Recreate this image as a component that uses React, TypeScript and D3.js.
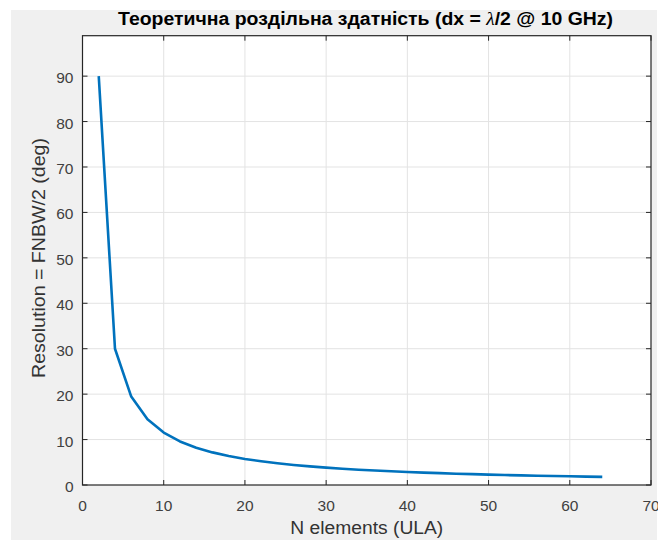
import React from "react";
import * as d3 from "d3";

// Number of array elements (uniform linear array)
const elementCounts = [
  2, 4, 6, 8, 10, 12, 14, 16, 18, 20, 22, 24, 26, 28, 30, 32,
  34, 36, 38, 40, 42, 44, 46, 48, 50, 52, 54, 56, 58, 60, 62, 64,
];
// Half first-null beamwidth, degrees
const resolutionDeg = [
  90, 30, 19.47, 14.48, 11.54, 9.59, 8.21, 7.18, 6.38, 5.74, 5.22, 4.78,
  4.41, 4.1, 3.82, 3.58, 3.37, 3.18, 3.02, 2.87, 2.73, 2.61, 2.49, 2.39,
  2.29, 2.2, 2.12, 2.05, 1.98, 1.91, 1.85, 1.79,
];
const xTicks = [0, 10, 20, 30, 40, 50, 60, 70];
const yTicks = [0, 10, 20, 30, 40, 50, 60, 70, 80, 90];

const titleMain = "Теоретична роздільна здатність (dx = ";
const titleLambda = "λ";
const titleTail = "/2 @ 10 GHz)";
const xLabel = "N elements (ULA)";
const yLabel = "Resolution = FNBW/2 (deg)";

const W = 658;
const H = 540;
const plot = { left: 82.5, right: 651, top: 35.7, bottom: 485 };
const axisColor = "#262626";
const gridColor = "#e3e3e3";
const font = "'Liberation Sans', Arial, Helvetica, sans-serif";

export default function App() {
  const x = d3.scaleLinear().domain([0, 70]).range([plot.left, plot.right]);
  const y = d3.scaleLinear().domain([0, 98.9]).range([plot.bottom, plot.top]);

  const pts: [number, number][] = elementCounts.map((n, i) => [n, resolutionDeg[i]]);
  const line = d3
    .line<[number, number]>()
    .x((d) => x(d[0]))
    .y((d) => y(d[1]));

  const tickLen = 5;
  const cx = (plot.left + plot.right) / 2;

  return (
    <svg
      width={W}
      height={H}
      style={{ position: "absolute", left: 0, top: 0, background: "#fff" }}
      fontFamily={font}
    >
      <rect x={11} y={10} width={646} height={H - 10} fill="#f0f0f0" />
      <rect
        x={plot.left}
        y={plot.top}
        width={plot.right - plot.left}
        height={plot.bottom - plot.top}
        fill="#fff"
      />

      {/* grid */}
      {xTicks.slice(1, -1).map((t) => (
        <line key={"gx" + t} x1={x(t)} x2={x(t)} y1={plot.top} y2={plot.bottom} stroke={gridColor} strokeWidth={1} />
      ))}
      {yTicks.slice(1).map((t) => (
        <line key={"gy" + t} x1={plot.left} x2={plot.right} y1={y(t)} y2={y(t)} stroke={gridColor} strokeWidth={1} />
      ))}

      {/* data */}
      <path d={line(pts) ?? ""} fill="none" stroke="#0072BD" strokeWidth={2.6} strokeLinejoin="round" />

      {/* axes box */}
      <rect
        x={plot.left}
        y={plot.top}
        width={plot.right - plot.left}
        height={plot.bottom - plot.top}
        fill="none"
        stroke={axisColor}
        strokeWidth={1.2}
      />

      {/* ticks */}
      {xTicks.map((t) => (
        <g key={"tx" + t}>
          <line x1={x(t)} x2={x(t)} y1={plot.bottom} y2={plot.bottom - tickLen} stroke={axisColor} />
          <line x1={x(t)} x2={x(t)} y1={plot.top} y2={plot.top + tickLen} stroke={axisColor} />
          <text x={x(t)} y={plot.bottom + 25.5} textAnchor="middle" fontSize={15.5} fill="#404040">
            {t}
          </text>
        </g>
      ))}
      {yTicks.map((t) => (
        <g key={"ty" + t}>
          <line x1={plot.left} x2={plot.left + tickLen} y1={y(t)} y2={y(t)} stroke={axisColor} />
          <line x1={plot.right} x2={plot.right - tickLen} y1={y(t)} y2={y(t)} stroke={axisColor} />
          <text x={plot.left - 9} y={y(t) + 7} textAnchor="end" fontSize={15.5} fill="#404040">
            {t}
          </text>
        </g>
      ))}

      {/* labels */}
      <text
        x={365.5}
        y={25}
        textAnchor="middle"
        fontSize={18}
        fontWeight="bold"
        fill="#000"
        textLength={495}
        lengthAdjust="spacingAndGlyphs"
      >
        {titleMain}
        <tspan fontWeight="normal" fontStyle="italic" fontFamily="'Liberation Serif', 'Times New Roman', serif">
          {titleLambda}
        </tspan>
        {titleTail}
      </text>
      <text
        x={cx}
        y={534}
        textAnchor="middle"
        fontSize={18}
        fill="#333"
        textLength={153}
        lengthAdjust="spacingAndGlyphs"
      >
        {xLabel}
      </text>
      <text
        transform={`translate(45,258) rotate(-90)`}
        textAnchor="middle"
        fontSize={18.5}
        fill="#333"
        textLength={240}
        lengthAdjust="spacingAndGlyphs"
      >
        {yLabel}
      </text>
    </svg>
  );
}
